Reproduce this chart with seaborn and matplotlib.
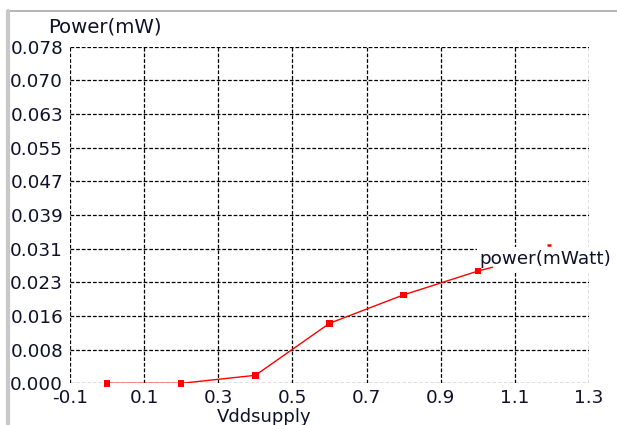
import matplotlib
matplotlib.use("Agg")
import matplotlib.pyplot as plt
import seaborn as sns
import pandas as pd

# data
vdd = [0.0, 0.2, 0.4, 0.6, 0.8, 1.0]
power = [0.0, 0.0, 0.00185, 0.0139, 0.0205, 0.026]
# simulated curve runs a little past the last marker
curve_vdd = vdd + [1.04]
curve_power = power + [0.0269]

xticks = [-0.1, 0.1, 0.3, 0.5, 0.7, 0.9, 1.1, 1.3]
yticks = [i * 0.0078 for i in range(11)]
ylabels = ["0.000", "0.008", "0.016", "0.023", "0.031", "0.039",
           "0.047", "0.055", "0.063", "0.070", "0.078"]

sns.set_style("white")
plt.rcParams['font.family'] = ['DejaVu Sans']
txt = "#10102a"

fig = plt.figure(figsize=(6.17, 4.25), dpi=100)
ax = fig.add_axes([70 / 617, 1 - 383.3 / 425, 519 / 617, 336.6 / 425])
ax.set_axisbelow(True)

df = pd.DataFrame({"Vddsupply": curve_vdd, "power": curve_power})
pts = pd.DataFrame({"Vddsupply": vdd, "power": power})
sns.lineplot(data=df, x="Vddsupply", y="power", ax=ax, color="red", lw=1, zorder=3)
sns.scatterplot(data=pts, x="Vddsupply", y="power", ax=ax, color="red", marker="s",
                s=22, edgecolor="none", zorder=4, clip_on=False)

ax.set_xlim(-0.1, 1.3)
ax.set_ylim(0, 0.078)
ax.set_xticks(xticks)
ax.set_xticklabels([f"{t:.1f}" for t in xticks])
ax.set_yticks(yticks)
ax.set_yticklabels(ylabels)
ax.tick_params(axis="both", direction="out", length=4, width=1, color="black",
               labelsize=13.2, labelcolor=txt)
ax.tick_params(axis="y", pad=1)
ax.tick_params(axis="x", length=3.5, pad=0.8)
ax.grid(True, color="black", linestyle=(0, (3, 1.5)), lw=0.9)
for s in ax.spines.values():
    s.set_visible(False)
ax.set_xlabel("")
ax.set_ylabel("")

fig.text(48 / 617, 1 - 27 / 425, "Power(mW)", fontsize=14.2, color=txt, va="center", ha="left")
fig.text(264 / 617, 1 - 422.5 / 425, "Vddsupply", fontsize=13, color=txt, va="baseline", ha="center")

# legend-like label, sits under the curve but over the grid
ax.text(1.005, 0.0288, "power(mWatt)", fontsize=13.2, color=txt, va="center", ha="left",
        clip_on=False, zorder=2,
        bbox=dict(facecolor="white", edgecolor="none", pad=2))
ax.plot([1.186, 1.198], [0.0321, 0.0321], color="red", lw=1.8, clip_on=False, zorder=6,
        solid_capstyle="butt")

# window frame
fig.add_artist(plt.Line2D([10 / 617, 1], [1 - 11 / 425] * 2, color="#a8a8a8", lw=1.2))
fig.add_artist(plt.Line2D([8 / 617] * 2, [0, 1 - 11 / 425], color="#c8c8c8", lw=3))

fig.savefig("out.png", dpi=100)
